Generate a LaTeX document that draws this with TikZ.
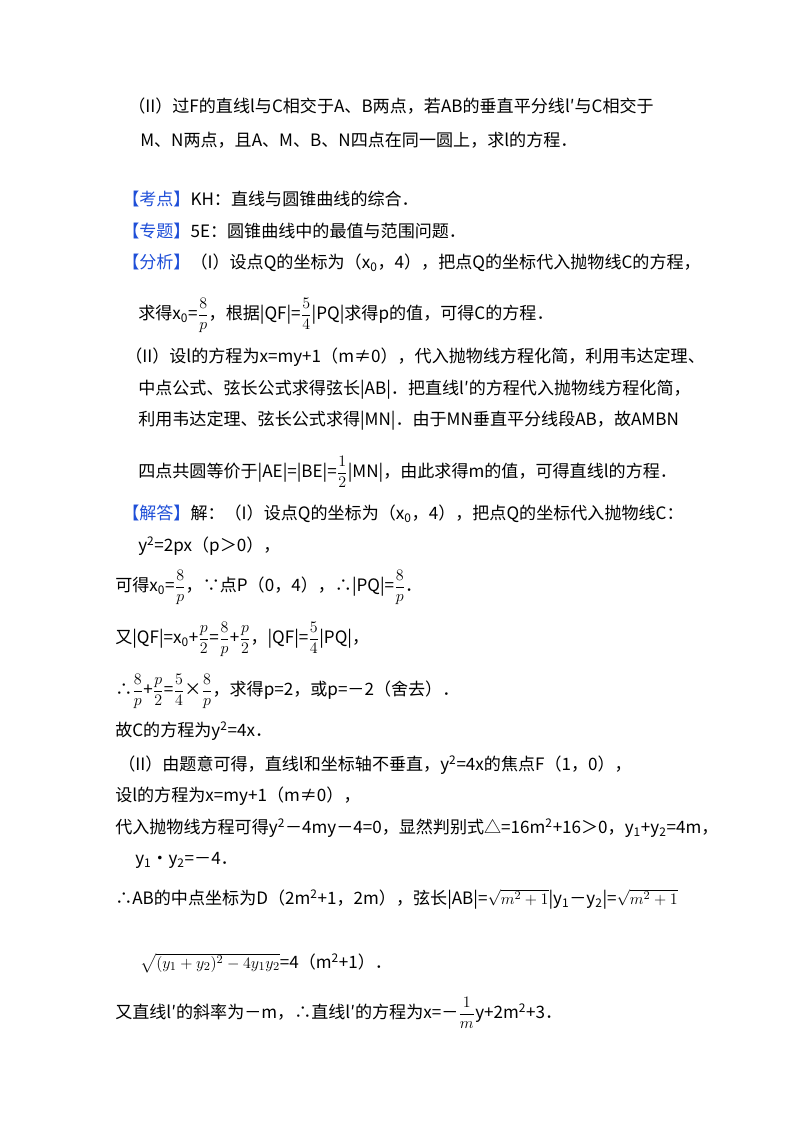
\documentclass[tikz,border=0pt]{standalone}
\usepackage{fontspec}
\usepackage{amsmath}
\setmainfont{Noto Sans CJK SC}
\definecolor{kblue}{HTML}{1F4FD8}
\newcommand{\tg}[1]{\textcolor{kblue}{【#1】}}
\newcommand{\fr}[2]{$\dfrac{#1}{#2}$}
\newcommand{\sub}[1]{\textsubscript{#1}}
\newcommand{\sups}[1]{\textsuperscript{#1}}
\begin{document}
\begin{tikzpicture}[x=0.75pt,y=-0.75pt,
  ln/.style={anchor=base west,inner sep=0pt,font=\fontsize{12.8}{15}\selectfont}]
\useasboundingbox (0,0) rectangle (800,1132);
\fill[white] (0,0) rectangle (800,1132);
\node[ln] (l1) at (128,112) {（II）过F的直线l与C相交于A、B两点，若AB的垂直平分线l′与C相交于};
\node[ln] (l2) at (140,146) {M、N两点，且A、M、B、N四点在同一圆上，求l的方程．};
\node[ln] (l3) at (122,205) {\tg{考点}KH：直线与圆锥曲线的综合．};
\node[ln] (l4) at (122,237) {\tg{专题}5E：圆锥曲线中的最值与范围问题．};
\node[ln] (l5) at (122,268) {\tg{分析}（I）设点Q的坐标为（x\sub{0}，4），把点Q的坐标代入抛物线C的方程，};
\node[ln] (l6) at (138,319) {求得x\sub{0}=\fr{8}{p}，根据|QF|=\fr{5}{4}|PQ|求得p的值，可得C的方程．};
\node[ln] (l7) at (125,362) {（II）设l的方程为x=my+1（m≠0），代入抛物线方程化简，利用韦达定理、};
\node[ln] (l8) at (138,394) {中点公式、弦长公式求得弦长|AB|．把直线l′的方程代入抛物线方程化简，};
\node[ln] (l9) at (138,425) {利用韦达定理、弦长公式求得|MN|．由于MN垂直平分线段AB，故AMBN};
\node[ln] (l10) at (138,477) {四点共圆等价于|AE|=|BE|=\fr{1}{2}|MN|，由此求得m的值，可得直线l的方程．};
\node[ln] (l11) at (122,519) {\tg{解答}解：（I）设点Q的坐标为（x\sub{0}，4），把点Q的坐标代入抛物线C：};
\node[ln] (l12) at (138,551) {y\sups{2}=2px（p＞0），};
\node[ln] (l13) at (115,591) {可得x\sub{0}=\fr{8}{p}，∵点P（0，4），∴|PQ|=\fr{8}{p}．};
\node[ln] (l14) at (115,643) {又|QF|=x\sub{0}+\fr{p}{2}=\fr{8}{p}+\fr{p}{2}，|QF|=\fr{5}{4}|PQ|，};
\node[ln] (l15) at (115,695) {∴\fr{8}{p}+\fr{p}{2}=\fr{5}{4}×\fr{8}{p}，求得p=2，或p=－2（舍去）．};
\node[ln] (l16) at (115,736) {故C的方程为y\sups{2}=4x．};
\node[ln] (l17) at (118,770) {（II）由题意可得，直线l和坐标轴不垂直，y\sups{2}=4x的焦点F（1，0），};
\node[ln] (l18) at (115,801) {设l的方程为x=my+1（m≠0），};
\node[ln] (l19) at (115,833) {代入抛物线方程可得y\sups{2}－4my－4=0，显然判别式△=16m\sups{2}+16＞0，y\sub{1}+y\sub{2}=4m，};
\node[ln] (l20) at (135,864) {y\sub{1}•y\sub{2}=－4．};
\node[ln] (l21) at (115,904) {∴AB的中点坐标为D（2m\sups{2}+1，2m），弦长|AB|=$\sqrt{m^2+1}$|y\sub{1}－y\sub{2}|=$\sqrt{m^2+1}$};
\node[ln] (l22) at (140,968) {$\sqrt{(y_1+y_2)^2-4y_1y_2}$=4（m\sups{2}+1）．};
\node[ln] (l23) at (115,1018) {又直线l′的斜率为－m，∴直线l′的方程为x=－\fr{1}{m}y+2m\sups{2}+3．};
\end{tikzpicture}
\end{document}
